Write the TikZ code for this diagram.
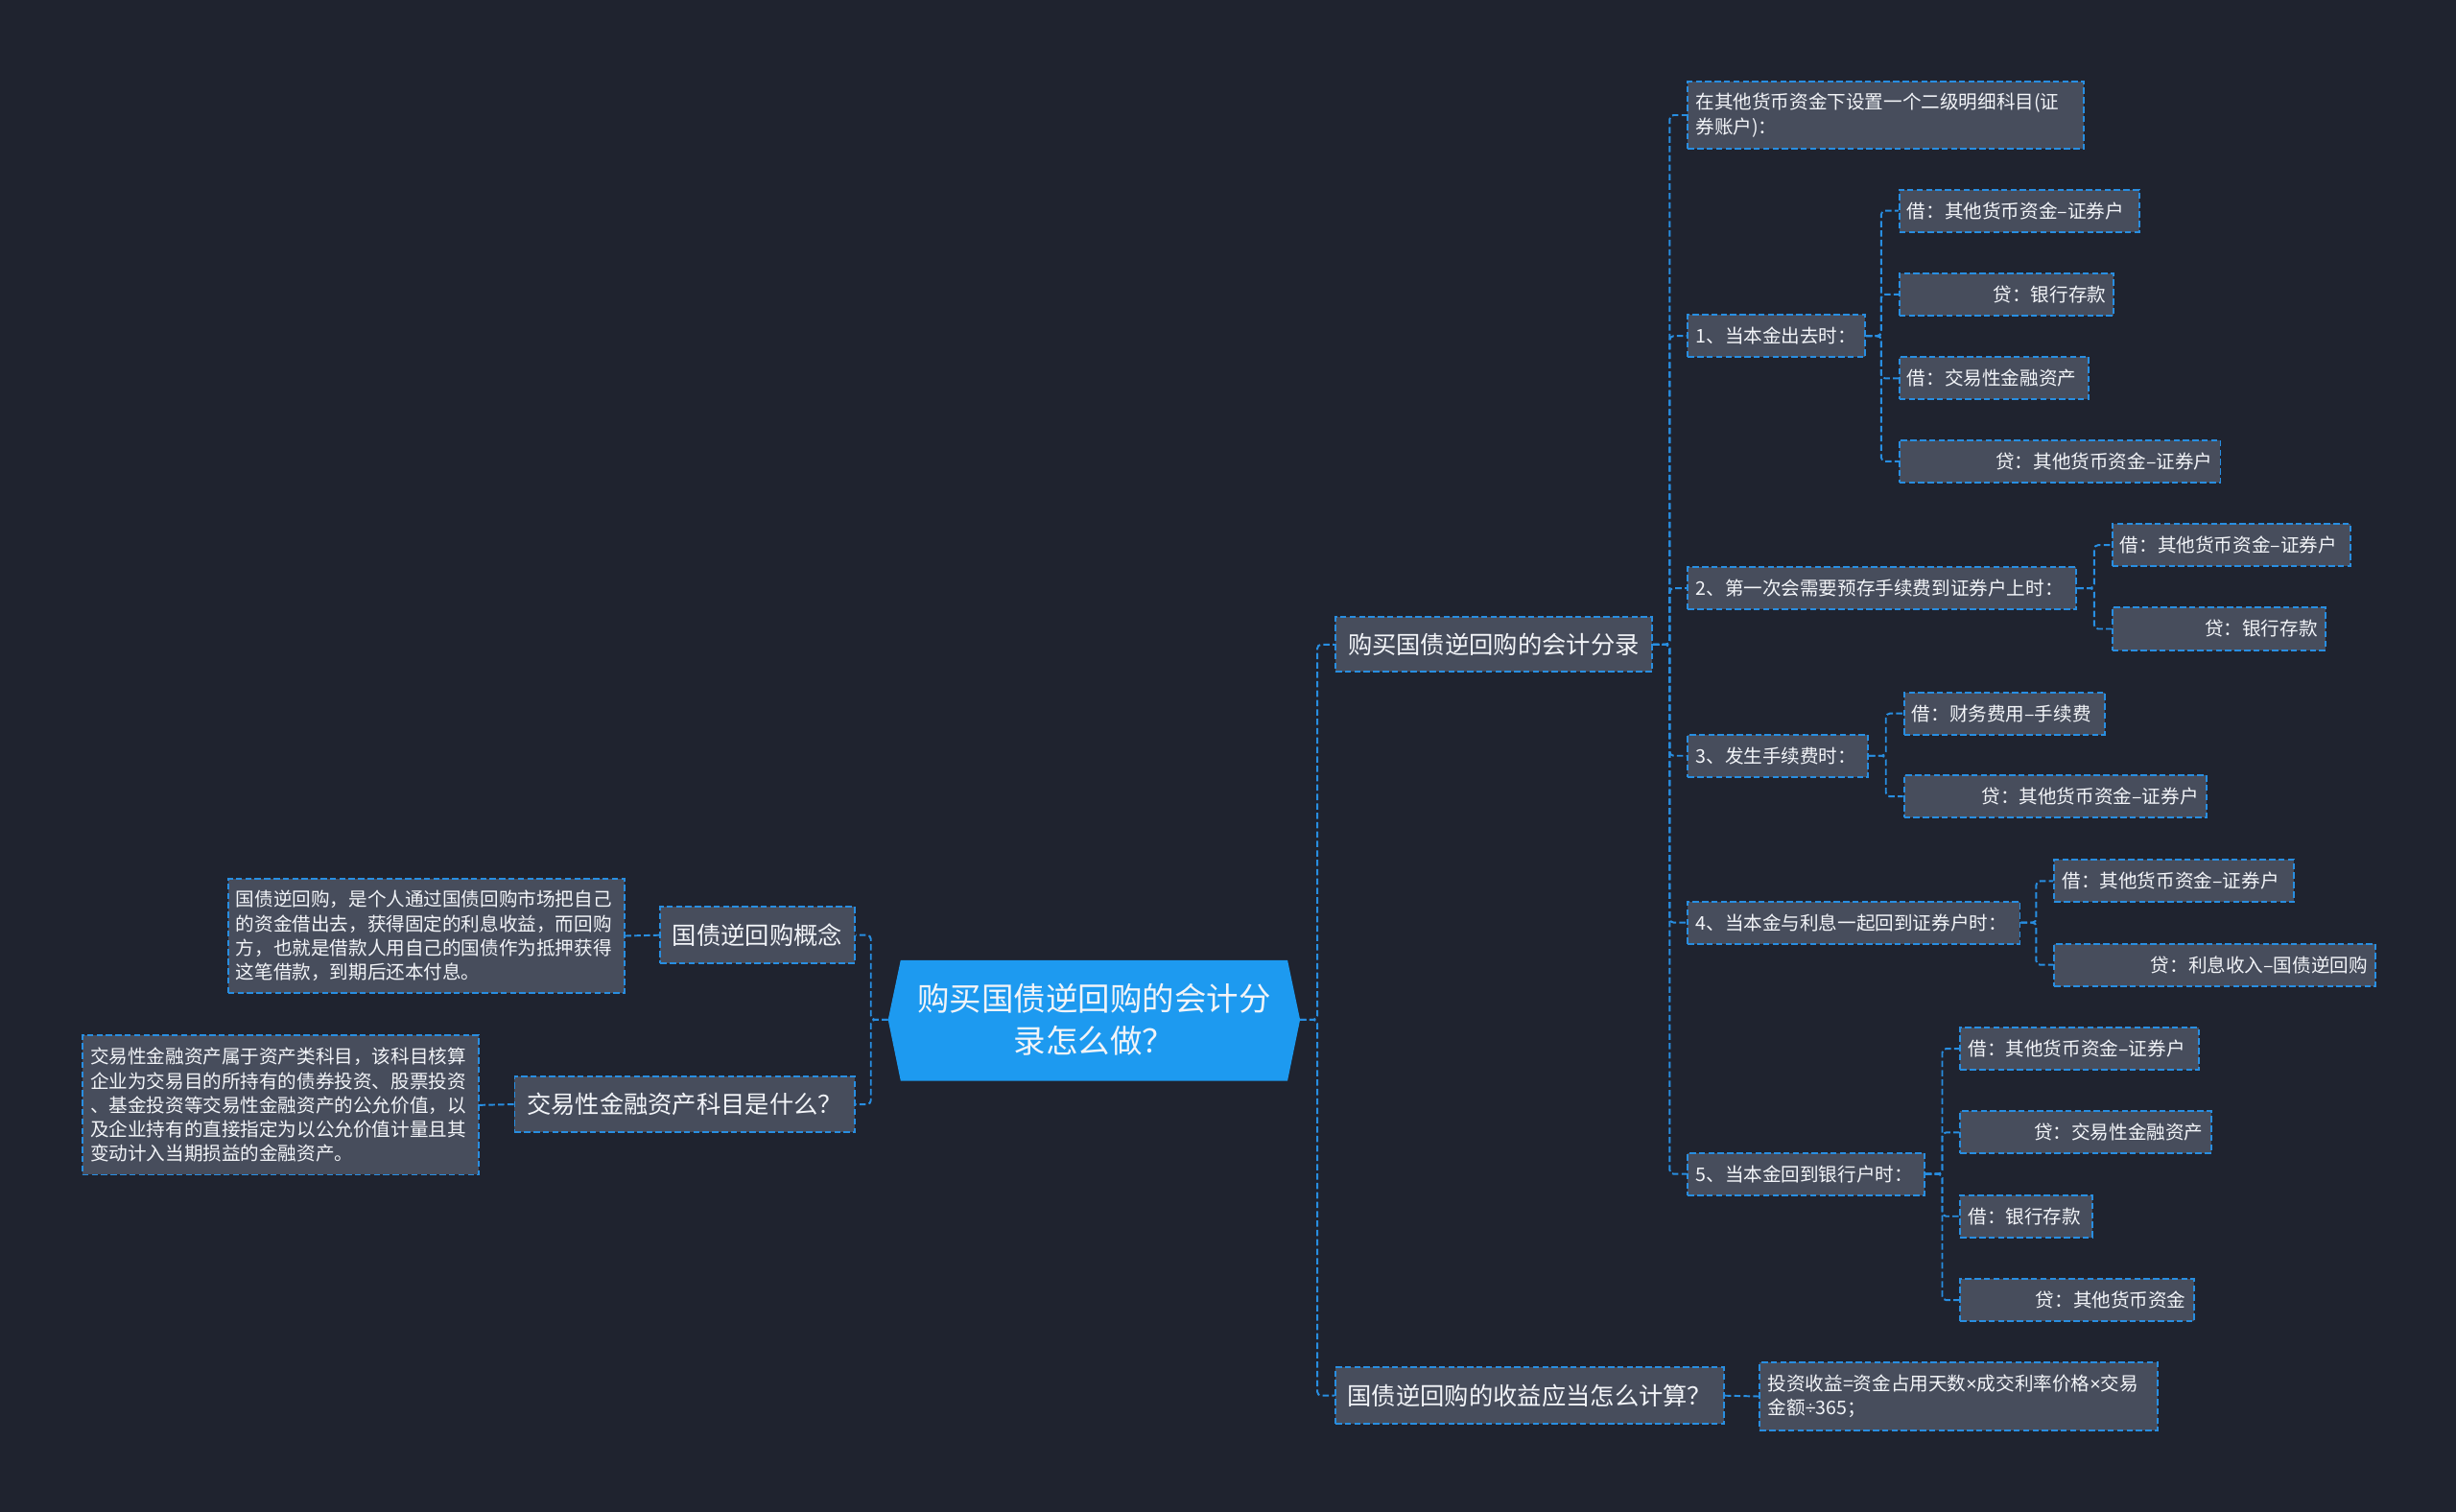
\documentclass[tikz,border=0pt]{standalone}
\usepackage{fontspec}
\setmainfont{Noto Sans CJK SC}
\newfontfamily\latinfont{Liberation Sans}
\definecolor{bgc}{RGB}{31,35,47}
\definecolor{boxfill}{RGB}{71,77,92}
\definecolor{lineblue}{RGB}{40,142,225}
\definecolor{rootblue}{RGB}{29,154,240}
\definecolor{txt}{RGB}{242,244,248}
\tikzset{
  box/.style={draw=lineblue, fill=boxfill, line width=1.2pt, dash pattern=on 4pt off 2pt,
    text=txt, inner xsep=5pt, inner ysep=0pt, anchor=west,
    font=\fontsize{12}{15.5}\selectfont},
  leafbox/.style={box, minimum height=27pt},
  titlebox/.style={box, minimum height=36pt, align=center, font=\fontsize{15.5}{18}\selectfont},
  conn/.style={draw=lineblue, line width=1.2pt, dash pattern=on 4pt off 2pt, rounded corners=2.5pt},
}
\begin{document}
\begin{tikzpicture}[x={(1pt,0pt)}, y={(0pt,-1pt)}]
\fill[bgc] (0,0) rectangle (1568,965);
\useasboundingbox (0,0) rectangle (1568,965);

% root
\fill[rootblue] (567,651) -- (575,613) -- (822,613) -- (830,651) -- (822,690) -- (575,690) -- cycle;
\node[text=txt, align=center, font=\fontsize{20.5}{27}\selectfont] (root) at (698.5,651) {购买国债逆回购的会计分\\录怎么做？};
\coordinate (rootL) at (567,651);
\coordinate (rootR) at (830,651);

% left side
\node[titlebox, minimum width=124pt, text width=114pt] (n1) at (421,597) {国债逆回购概念};
\node[box, minimum height=73pt, text width=243pt, align=left] (d1) at (145,597.5)
  {国债逆回购，是个人通过国债回购市场把自己\\的资金借出去，获得固定的利息收益，而回购\\方，也就是借款人用自己的国债作为抵押获得\\这笔借款，到期后还本付息。};
\node[titlebox, minimum width=217pt, text width=207pt] (n2) at (328,705) {交易性金融资产科目是什么？};
\node[box, minimum height=89pt, text width=243pt, align=left] (d2) at (52,705.5)
  {交易性金融资产属于资产类科目，该科目核算\\企业为交易目的所持有的债券投资、股票投资\\、基金投资等交易性金融资产的公允价值，以\\及企业持有的直接指定为以公允价值计量且其\\变动计入当期损益的金融资产。};

\draw[conn] (rootL) -- (556,651) |- (n1.east);
\draw[conn] (rootL) -- (556,651) |- (n2.east);
\draw[conn] (n1.west) -- (d1.east);
\draw[conn] (n2.west) -- (d2.east);

% right side
\node[titlebox, minimum height=35pt, minimum width=202pt, text width=192pt] (r1) at (852,411.5) {购买国债逆回购的会计分录};
\node[titlebox, minimum width=248pt, text width=238pt] (r2) at (852,891) {国债逆回购的收益应当怎么计算？};
\node[box, minimum height=43pt, text width=244pt, align=left] (r2d) at (1123,891.5)
  {投资收益=资金占用天数{\latinfont ×}成交利率价格{\latinfont ×}交易\\金额{\latinfont ÷}365；};

\draw[conn] (rootR) -- (841,651) |- (r1.west);
\draw[conn] (rootR) -- (841,651) |- (r2.west);
\draw[conn] (r2.east) -- (r2d.west);

% accounting entries branch
\node[box, minimum height=43pt, text width=243pt, align=left] (a0) at (1077,73.5)
  {在其他货币资金下设置一个二级明细科目(证\\券账户)：};
\node[leafbox, text width=103pt, align=left] (a1) at (1077,214.5) {1、当本金出去时：};
\node[leafbox, text width=238pt, align=left] (a2) at (1077,375.5) {2、第一次会需要预存手续费到证券户上时：};
\node[leafbox, text width=105pt, align=left] (a3) at (1077,482.5) {3、发生手续费时：};
\node[leafbox, text width=202pt, align=left] (a4) at (1077,589) {4、当本金与利息一起回到证券户时：};
\node[leafbox, text width=141pt, align=left] (a5) at (1077,749.5) {5、当本金回到银行户时：};

\foreach \c in {a0,a1,a2,a3,a4,a5}
  \draw[conn] (r1.east) -- (1066,411.5) |- (\c.west);

% 1
\node[leafbox, text width=143pt, align=left] (b11) at (1212,134.5) {借：其他货币资金–证券户};
\node[leafbox, text width=127pt, align=right] (b12) at (1212,188) {贷：银行存款};
\node[leafbox, text width=111pt, align=left] (b13) at (1212,241.5) {借：交易性金融资产};
\node[leafbox, text width=195pt, align=right] (b14) at (1212,294.5) {贷：其他货币资金–证券户};
\foreach \c in {b11,b12,b13,b14}
  \draw[conn] (a1.east) -- (1201,214.5) |- (\c.west);

% 2
\node[leafbox, text width=142pt, align=left] (b21) at (1348,348) {借：其他货币资金–证券户};
\node[leafbox, text width=126pt, align=right] (b22) at (1348,401.5) {贷：银行存款};
\foreach \c in {b21,b22}
  \draw[conn] (a2.east) -- (1337,375.5) |- (\c.west);

% 3
\node[leafbox, text width=118pt, align=left] (b31) at (1215,455.5) {借：财务费用–手续费};
\node[leafbox, text width=183pt, align=right] (b32) at (1215,508.5) {贷：其他货币资金–证券户};
\foreach \c in {b31,b32}
  \draw[conn] (a3.east) -- (1204,482.5) |- (\c.west);

% 4
\node[leafbox, text width=143pt, align=left] (b41) at (1311,562.5) {借：其他货币资金–证券户};
\node[leafbox, text width=195pt, align=right] (b42) at (1311,616) {贷：利息收入–国债逆回购};
\foreach \c in {b41,b42}
  \draw[conn] (a4.east) -- (1300,589) |- (\c.west);

% 5
\node[leafbox, text width=142pt, align=left] (b51) at (1251,669.5) {借：其他货币资金–证券户};
\node[leafbox, text width=150pt, align=right] (b52) at (1251,723) {贷：交易性金融资产};
\node[leafbox, text width=74pt, align=left] (b53) at (1251,776.5) {借：银行存款};
\node[leafbox, text width=139pt, align=right] (b54) at (1251,830) {贷：其他货币资金};
\foreach \c in {b51,b52,b53,b54}
  \draw[conn] (a5.east) -- (1240,749.5) |- (\c.west);
\end{tikzpicture}
\end{document}
